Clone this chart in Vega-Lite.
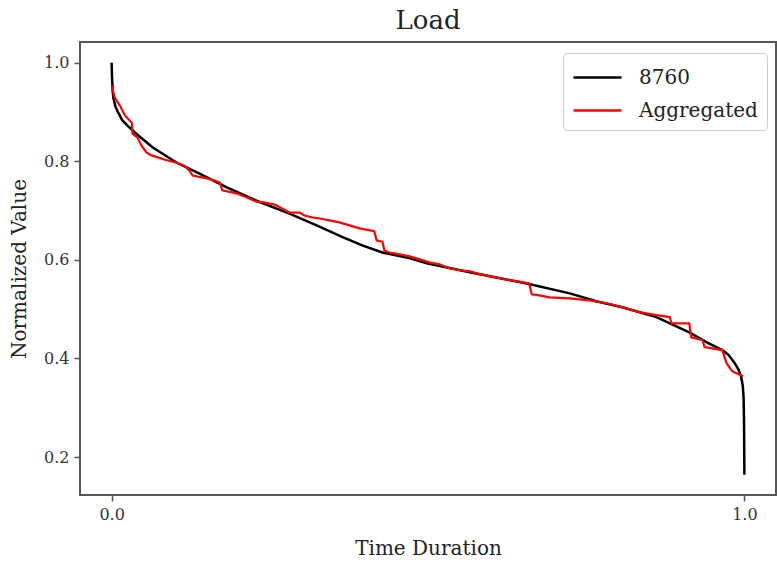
{
  "$schema": "https://vega.github.io/schema/vega-lite/v6.json",
  "autosize": "none",
  "width": 696,
  "height": 453,
  "padding": {"left": 80, "top": 42, "right": 1, "bottom": 70},
  "background": "white",
  "title": {"text": "Load", "fontSize": 26, "font": "DejaVu Serif", "fontWeight": "normal", "color": "#222", "offset": 8},
  "config": {
    "font": "DejaVu Serif",
    "view": {"stroke": "#555", "strokeWidth": 2},
    "axis": {"grid": false, "domain": false, "tickColor": "#555", "tickWidth": 1.5, "tickSize": 6, "labelFont": "DejaVu Serif", "labelFontSize": 16, "labelColor": "#333", "titleFont": "DejaVu Serif", "titleFontSize": 20, "titleFontWeight": "normal", "titleColor": "#222", "labelPadding": 5}
  },
  "datasets": {
    "curves": [
      {"t": 0.000, "v": 1.000, "series": "8760"},
      {"t": 0.0005, "v": 0.974, "series": "8760"},
      {"t": 0.0016, "v": 0.943, "series": "8760"},
      {"t": 0.003, "v": 0.927, "series": "8760"},
      {"t": 0.006, "v": 0.911, "series": "8760"},
      {"t": 0.011, "v": 0.897, "series": "8760"},
      {"t": 0.017, "v": 0.883, "series": "8760"},
      {"t": 0.027, "v": 0.870, "series": "8760"},
      {"t": 0.039, "v": 0.856, "series": "8760"},
      {"t": 0.065, "v": 0.828, "series": "8760"},
      {"t": 0.103, "v": 0.797, "series": "8760"},
      {"t": 0.139, "v": 0.775, "series": "8760"},
      {"t": 0.182, "v": 0.747, "series": "8760"},
      {"t": 0.229, "v": 0.720, "series": "8760"},
      {"t": 0.281, "v": 0.694, "series": "8760"},
      {"t": 0.324, "v": 0.670, "series": "8760"},
      {"t": 0.365, "v": 0.646, "series": "8760"},
      {"t": 0.397, "v": 0.629, "series": "8760"},
      {"t": 0.428, "v": 0.615, "series": "8760"},
      {"t": 0.466, "v": 0.605, "series": "8760"},
      {"t": 0.498, "v": 0.593, "series": "8760"},
      {"t": 0.566, "v": 0.575, "series": "8760"},
      {"t": 0.656, "v": 0.552, "series": "8760"},
      {"t": 0.724, "v": 0.532, "series": "8760"},
      {"t": 0.766, "v": 0.516, "series": "8760"},
      {"t": 0.807, "v": 0.504, "series": "8760"},
      {"t": 0.861, "v": 0.484, "series": "8760"},
      {"t": 0.913, "v": 0.453, "series": "8760"},
      {"t": 0.940, "v": 0.433, "series": "8760"},
      {"t": 0.965, "v": 0.417, "series": "8760"},
      {"t": 0.975, "v": 0.407, "series": "8760"},
      {"t": 0.984, "v": 0.392, "series": "8760"},
      {"t": 0.991, "v": 0.377, "series": "8760"},
      {"t": 0.995, "v": 0.362, "series": "8760"},
      {"t": 0.9975, "v": 0.345, "series": "8760"},
      {"t": 0.9988, "v": 0.320, "series": "8760"},
      {"t": 0.9995, "v": 0.270, "series": "8760"},
      {"t": 1.000, "v": 0.164, "series": "8760"},
      {"t": 0.000, "v": 0.953, "series": "Aggregated"},
      {"t": 0.005, "v": 0.929, "series": "Aggregated"},
      {"t": 0.013, "v": 0.913, "series": "Aggregated"},
      {"t": 0.021, "v": 0.893, "series": "Aggregated"},
      {"t": 0.032, "v": 0.878, "series": "Aggregated"},
      {"t": 0.033, "v": 0.856, "series": "Aggregated"},
      {"t": 0.041, "v": 0.848, "series": "Aggregated"},
      {"t": 0.047, "v": 0.832, "series": "Aggregated"},
      {"t": 0.055, "v": 0.818, "series": "Aggregated"},
      {"t": 0.063, "v": 0.812, "series": "Aggregated"},
      {"t": 0.073, "v": 0.808, "series": "Aggregated"},
      {"t": 0.087, "v": 0.802, "series": "Aggregated"},
      {"t": 0.103, "v": 0.797, "series": "Aggregated"},
      {"t": 0.115, "v": 0.791, "series": "Aggregated"},
      {"t": 0.123, "v": 0.781, "series": "Aggregated"},
      {"t": 0.128, "v": 0.771, "series": "Aggregated"},
      {"t": 0.144, "v": 0.767, "series": "Aggregated"},
      {"t": 0.163, "v": 0.761, "series": "Aggregated"},
      {"t": 0.171, "v": 0.757, "series": "Aggregated"},
      {"t": 0.175, "v": 0.741, "series": "Aggregated"},
      {"t": 0.197, "v": 0.735, "series": "Aggregated"},
      {"t": 0.213, "v": 0.727, "series": "Aggregated"},
      {"t": 0.229, "v": 0.718, "series": "Aggregated"},
      {"t": 0.242, "v": 0.716, "series": "Aggregated"},
      {"t": 0.258, "v": 0.712, "series": "Aggregated"},
      {"t": 0.273, "v": 0.702, "series": "Aggregated"},
      {"t": 0.281, "v": 0.696, "series": "Aggregated"},
      {"t": 0.297, "v": 0.696, "series": "Aggregated"},
      {"t": 0.305, "v": 0.690, "series": "Aggregated"},
      {"t": 0.318, "v": 0.686, "series": "Aggregated"},
      {"t": 0.329, "v": 0.684, "series": "Aggregated"},
      {"t": 0.344, "v": 0.680, "series": "Aggregated"},
      {"t": 0.360, "v": 0.676, "series": "Aggregated"},
      {"t": 0.376, "v": 0.670, "series": "Aggregated"},
      {"t": 0.392, "v": 0.664, "series": "Aggregated"},
      {"t": 0.415, "v": 0.658, "series": "Aggregated"},
      {"t": 0.419, "v": 0.639, "series": "Aggregated"},
      {"t": 0.428, "v": 0.637, "series": "Aggregated"},
      {"t": 0.431, "v": 0.619, "series": "Aggregated"},
      {"t": 0.439, "v": 0.615, "series": "Aggregated"},
      {"t": 0.455, "v": 0.611, "series": "Aggregated"},
      {"t": 0.471, "v": 0.607, "series": "Aggregated"},
      {"t": 0.487, "v": 0.601, "series": "Aggregated"},
      {"t": 0.502, "v": 0.595, "series": "Aggregated"},
      {"t": 0.518, "v": 0.591, "series": "Aggregated"},
      {"t": 0.534, "v": 0.583, "series": "Aggregated"},
      {"t": 0.550, "v": 0.579, "series": "Aggregated"},
      {"t": 0.566, "v": 0.577, "series": "Aggregated"},
      {"t": 0.581, "v": 0.571, "series": "Aggregated"},
      {"t": 0.597, "v": 0.567, "series": "Aggregated"},
      {"t": 0.613, "v": 0.563, "series": "Aggregated"},
      {"t": 0.629, "v": 0.559, "series": "Aggregated"},
      {"t": 0.645, "v": 0.556, "series": "Aggregated"},
      {"t": 0.660, "v": 0.552, "series": "Aggregated"},
      {"t": 0.664, "v": 0.530, "series": "Aggregated"},
      {"t": 0.676, "v": 0.528, "series": "Aggregated"},
      {"t": 0.692, "v": 0.524, "series": "Aggregated"},
      {"t": 0.724, "v": 0.522, "series": "Aggregated"},
      {"t": 0.755, "v": 0.518, "series": "Aggregated"},
      {"t": 0.782, "v": 0.512, "series": "Aggregated"},
      {"t": 0.807, "v": 0.504, "series": "Aggregated"},
      {"t": 0.834, "v": 0.494, "series": "Aggregated"},
      {"t": 0.861, "v": 0.488, "series": "Aggregated"},
      {"t": 0.882, "v": 0.484, "series": "Aggregated"},
      {"t": 0.885, "v": 0.471, "series": "Aggregated"},
      {"t": 0.913, "v": 0.471, "series": "Aggregated"},
      {"t": 0.916, "v": 0.443, "series": "Aggregated"},
      {"t": 0.934, "v": 0.437, "series": "Aggregated"},
      {"t": 0.937, "v": 0.423, "series": "Aggregated"},
      {"t": 0.965, "v": 0.417, "series": "Aggregated"},
      {"t": 0.972, "v": 0.390, "series": "Aggregated"},
      {"t": 0.981, "v": 0.374, "series": "Aggregated"},
      {"t": 0.998, "v": 0.364, "series": "Aggregated"}
    ]
  },
  "data": {"name": "curves"},
  "encoding": {
    "x": {"field": "t", "type": "quantitative", "title": "Time Duration",
          "scale": {"domain": [-0.05, 1.05], "nice": false, "zero": false},
          "axis": {"values": [0, 1], "format": ".1f", "titlePadding": 16}},
    "y": {"field": "v", "type": "quantitative", "title": "Normalized Value",
          "scale": {"domain": [0.123, 1.042], "nice": false, "zero": false},
          "axis": {"values": [0.2, 0.4, 0.6, 0.8, 1.0], "format": ".1f", "titlePadding": 14}},
    "color": {"field": "series", "type": "nominal",
              "scale": {"domain": ["8760", "Aggregated"], "range": ["#000000", "#ff0000"]},
              "legend": {"title": null, "orient": "none", "legendX": 483, "legendY": 11,
                         "symbolType": "M-1,0H2.43", "symbolSize": 784, "symbolStrokeWidth": 2.5,
                         "labelFontSize": 20, "labelFont": "DejaVu Serif", "labelColor": "#222",
                         "labelOffset": 36, "rowPadding": 7, "padding": 9,
                         "fillColor": "white", "strokeColor": "#cccccc", "cornerRadius": 4}}
  },
  "layer": [
    {"transform": [{"filter": "datum.series === '8760'"}], "mark": {"type": "line", "strokeWidth": 2.5}},
    {"transform": [{"filter": "datum.series === 'Aggregated'"}], "mark": {"type": "line", "strokeWidth": 2.2}}
  ]
}
